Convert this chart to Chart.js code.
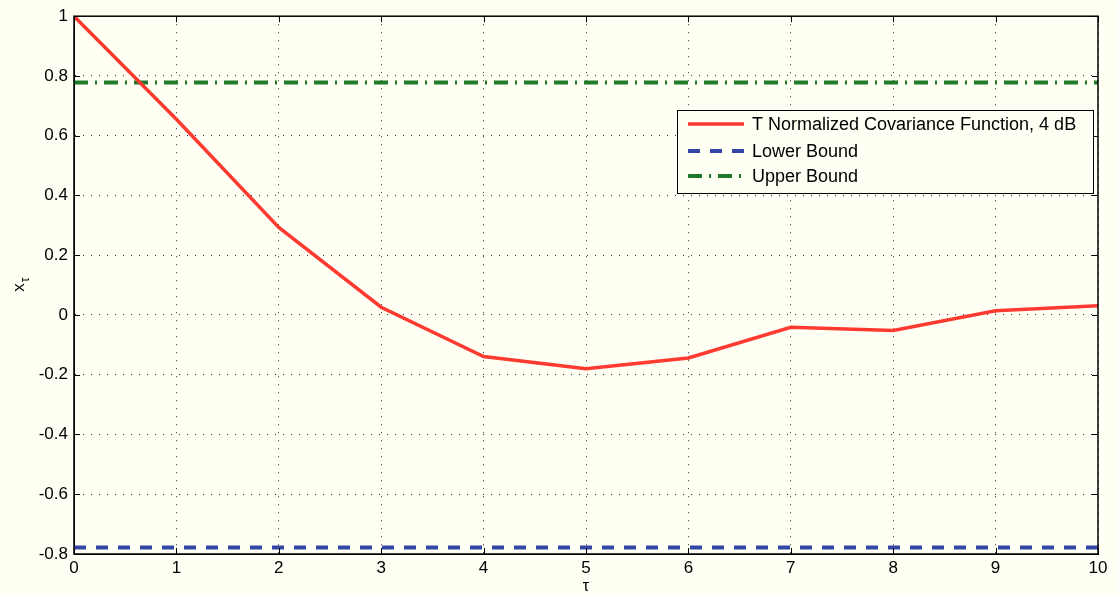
<!DOCTYPE html>
<html>
<head>
<meta charset="utf-8">
<script src="https://cdn.jsdelivr.net/npm/chart.js@4"></script>
<style>
  html, body { margin: 0; padding: 0; background: #fffff4; }
  #wrap { width: 1118px; height: 596px; position: relative; }
</style>
</head>
<body>
<div id="wrap"><canvas id="chart" width="1118" height="596"></canvas></div>
<script>
// valores
const tau = [0, 1, 2, 3, 4, 5, 6, 7, 8, 9, 10];
const covariance = [1, 0.655, 0.293, 0.026, -0.139, -0.18, -0.144, -0.041, -0.052, 0.014, 0.031];
const lowerBound = -0.778;
const upperBound = 0.778;
const xTicks = [0, 1, 2, 3, 4, 5, 6, 7, 8, 9, 10];
const yTicks = [-0.8, -0.6, -0.4, -0.2, 0, 0.2, 0.4, 0.6, 0.8, 1];
const seriesLabels = ['T Normalized Covariance Function, 4 dB', 'Lower Bound', 'Upper Bound'];

const FONT = 'Liberation Sans, Arial, sans-serif';

// caixa do eixo com marcas internas (estilo MATLAB) + rótulo y com subscrito
const axesBox = {
    id: 'axesBox',
    afterDraw(chart) {
        const ctx = chart.ctx;
        const a = chart.chartArea;
        const xs = chart.scales.x, ys = chart.scales.y;
        ctx.save();
        ctx.strokeStyle = '#000';
        ctx.lineWidth = 1;
        ctx.beginPath();
        xTicks.forEach(v => {
            const px = Math.round(xs.getPixelForValue(v)) + 0.5;
            ctx.moveTo(px, a.bottom); ctx.lineTo(px, a.bottom - 6);
            ctx.moveTo(px, a.top); ctx.lineTo(px, a.top + 6);
        });
        yTicks.forEach(v => {
            const py = Math.round(ys.getPixelForValue(v)) + 0.5;
            ctx.moveTo(a.left, py); ctx.lineTo(a.left + 6, py);
            ctx.moveTo(a.right, py); ctx.lineTo(a.right - 6, py);
        });
        ctx.stroke();
        ctx.lineWidth = 1.5;
        ctx.strokeRect(a.left, a.top, a.right - a.left, a.bottom - a.top);

        // x_τ
        ctx.translate(24, (a.top + a.bottom) / 2);
        ctx.rotate(-Math.PI / 2);
        ctx.fillStyle = '#000';
        ctx.textBaseline = 'alphabetic';
        ctx.textAlign = 'left';
        ctx.font = '17px ' + FONT;
        const wx = ctx.measureText('x').width;
        ctx.font = '12px ' + FONT;
        const wt = ctx.measureText('τ').width;
        const start = -(wx + wt) / 2;
        ctx.font = '17px ' + FONT;
        ctx.fillText('x', start, 0);
        ctx.font = '12px ' + FONT;
        ctx.fillText('τ', start + wx + 1, 5);
        ctx.restore();
    }
};

// legenda dentro da área do gráfico
const boxLegend = {
    id: 'boxLegend',
    afterDraw(chart) {
        const ctx = chart.ctx;
        const x0 = 677, y0 = 110, w = 416, h = 83;
        ctx.save();
        ctx.fillStyle = '#fffff4';
        ctx.fillRect(x0, y0, w, h);
        ctx.strokeStyle = '#000';
        ctx.lineWidth = 1;
        ctx.strokeRect(x0 + 0.5, y0 + 0.5, w, h);
        ctx.font = '18px ' + FONT;
        ctx.textBaseline = 'middle';
        const rows = [124, 151, 176];
        chart.data.datasets.forEach((ds, i) => {
            ctx.strokeStyle = ds.borderColor;
            ctx.lineWidth = ds.borderWidth;
            ctx.setLineDash(ds.borderDash || []);
            ctx.beginPath();
            ctx.moveTo(688, rows[i]);
            ctx.lineTo(744, rows[i]);
            ctx.stroke();
            ctx.setLineDash([]);
            ctx.fillStyle = '#000';
            ctx.fillText(ds.label, 752, rows[i] + 1);
        });
        ctx.restore();
    }
};

const ctx = document.getElementById('chart').getContext('2d');
new Chart(ctx, {
    type: 'line',
    data: {
        datasets: [
            {
                label: seriesLabels[0],
                data: tau.map((t, i) => ({ x: t, y: covariance[i] })),
                borderColor: '#ff3a30',
                borderWidth: 3.5,
                pointRadius: 0,
                tension: 0
            },
            {
                label: seriesLabels[1],
                data: [{ x: tau[0], y: lowerBound }, { x: tau[tau.length - 1], y: lowerBound }],
                borderColor: '#3346a6',
                borderWidth: 4,
                borderDash: [12, 10],
                pointRadius: 0
            },
            {
                label: seriesLabels[2],
                data: [{ x: tau[0], y: upperBound }, { x: tau[tau.length - 1], y: upperBound }],
                borderColor: '#1f7a2c',
                borderWidth: 4,
                borderDash: [14, 7, 2, 7],
                pointRadius: 0
            }
        ]
    },
    options: {
        responsive: false,
        animation: false,
        layout: { padding: { top: 15, right: 20, left: 0, bottom: 0 } },
        plugins: {
            legend: { display: false },
            tooltip: { enabled: false }
        },
        scales: {
            x: {
                type: 'linear',
                min: 0,
                max: 10,
                afterBuildTicks(scale) { scale.ticks = xTicks.map(v => ({ value: v })); },
                afterFit(scale) { scale.height = 42; },
                ticks: {
                    color: '#000',
                    font: { family: FONT, size: 17 },
                    padding: 4,
                    maxRotation: 0,
                    callback: v => String(v)
                },
                grid: {
                    color: '#333',
                    lineWidth: 1,
                    drawTicks: false
                },
                border: { display: true, color: '#000', dash: [1, 7] },
                title: {
                    display: true,
                    text: 'τ',
                    color: '#000',
                    font: { family: FONT, size: 16 },
                    padding: { top: -5, bottom: 0 }
                }
            },
            y: {
                type: 'linear',
                min: -0.8,
                max: 1,
                afterBuildTicks(scale) { scale.ticks = yTicks.map(v => ({ value: v })); },
                afterFit(scale) { scale.width = 74; },
                ticks: {
                    color: '#000',
                    font: { family: FONT, size: 17 },
                    padding: 6,
                    callback: v => String(Math.round(v * 10) / 10)
                },
                grid: {
                    color: '#333',
                    lineWidth: 1,
                    drawTicks: false
                },
                border: { display: true, color: '#000', dash: [1, 7] }
            }
        }
    },
    plugins: [axesBox, boxLegend]
});
</script>
</body>
</html>
